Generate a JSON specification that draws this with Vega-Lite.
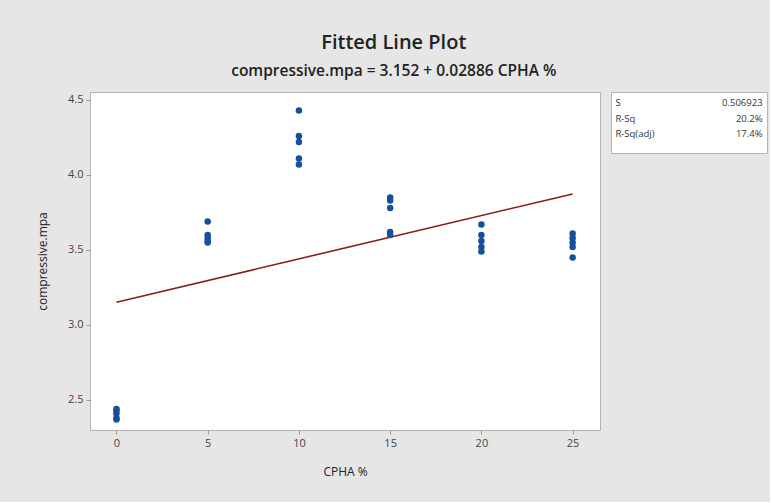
{
  "$schema": "https://vega.github.io/schema/vega-lite/v6.json",
  "padding": {"left": 36, "top": 33, "right": 2, "bottom": 24},
  "background": "#e6e6e6",
  "title": {
    "text": "Fitted Line Plot",
    "subtitle": "compressive.mpa = 3.152 + 0.02886 CPHA %",
    "anchor": "middle",
    "frame": "bounds",
    "dx": -8,
    "font": "Open Sans",
    "fontSize": 20,
    "fontWeight": 600,
    "color": "#222222",
    "subtitleFont": "Open Sans",
    "subtitleFontSize": 15.5,
    "subtitleFontWeight": 600,
    "subtitleColor": "#222222",
    "subtitlePadding": 11,
    "offset": 12
  },
  "datasets": {
    "points": [
      {"cpha": 0, "mpa": 2.44}, {"cpha": 0, "mpa": 2.43}, {"cpha": 0, "mpa": 2.41}, {"cpha": 0, "mpa": 2.38}, {"cpha": 0, "mpa": 2.37},
      {"cpha": 5, "mpa": 3.69}, {"cpha": 5, "mpa": 3.60}, {"cpha": 5, "mpa": 3.58}, {"cpha": 5, "mpa": 3.56}, {"cpha": 5, "mpa": 3.55},
      {"cpha": 10, "mpa": 4.43}, {"cpha": 10, "mpa": 4.26}, {"cpha": 10, "mpa": 4.22}, {"cpha": 10, "mpa": 4.11}, {"cpha": 10, "mpa": 4.07},
      {"cpha": 15, "mpa": 3.85}, {"cpha": 15, "mpa": 3.83}, {"cpha": 15, "mpa": 3.78}, {"cpha": 15, "mpa": 3.62}, {"cpha": 15, "mpa": 3.60},
      {"cpha": 20, "mpa": 3.67}, {"cpha": 20, "mpa": 3.60}, {"cpha": 20, "mpa": 3.56}, {"cpha": 20, "mpa": 3.52}, {"cpha": 20, "mpa": 3.49},
      {"cpha": 25, "mpa": 3.61}, {"cpha": 25, "mpa": 3.58}, {"cpha": 25, "mpa": 3.55}, {"cpha": 25, "mpa": 3.52}, {"cpha": 25, "mpa": 3.45}
    ],
    "fit": [
      {"cpha": 0, "mpa": 3.152},
      {"cpha": 25, "mpa": 3.8735}
    ],
    "stats": [
      {"row": 1, "label": "S", "value": "0.506923"},
      {"row": 2, "label": "R-Sq", "value": "20.2%"},
      {"row": 3, "label": "R-Sq(adj)", "value": "17.4%"}
    ]
  },
  "config": {
    "font": "Open Sans",
    "view": {"fill": "white", "stroke": "#b5b5b5", "strokeWidth": 1},
    "axis": {
      "grid": false,
      "domain": false,
      "tickColor": "#9a9a9a",
      "tickSize": 4,
      "labelFont": "Open Sans",
      "labelFontSize": 11,
      "labelColor": "#444444",
      "titleFont": "Open Sans",
      "titleFontSize": 12,
      "titleFontWeight": 500,
      "titleColor": "#222222"
    }
  },
  "spacing": 11,
  "bounds": "flush",
  "hconcat": [
    {
      "width": 510,
      "height": 338,
      "layer": [
        {
          "data": {"name": "fit"},
          "mark": {"type": "line", "color": "#8b1c1c", "strokeWidth": 1.6},
          "encoding": {
            "x": {"field": "cpha", "type": "quantitative"},
            "y": {"field": "mpa", "type": "quantitative"}
          }
        },
        {
          "data": {"name": "points"},
          "mark": {"type": "circle", "size": 42, "color": "#14509b", "opacity": 1},
          "encoding": {
            "x": {
              "field": "cpha",
              "type": "quantitative",
              "title": "CPHA %",
              "scale": {"domain": [-1.45, 26.5], "nice": false, "zero": false},
              "axis": {"values": [0, 5, 10, 15, 20, 25], "titlePadding": 18, "labelPadding": 3}
            },
            "y": {
              "field": "mpa",
              "type": "quantitative",
              "title": "compressive.mpa",
              "scale": {"domain": [2.3, 4.553], "nice": false, "zero": false},
              "axis": {"values": [2.5, 3.0, 3.5, 4.0, 4.5], "format": ".1f", "titlePadding": 18, "labelPadding": 3}
            }
          }
        }
      ]
    },
    {
      "width": 156,
      "height": 61,
      "data": {"name": "stats"},
      "view": {"fill": "white", "stroke": "#b5b5b5"},
      "layer": [
        {
          "mark": {"type": "text", "align": "left", "baseline": "middle", "fontSize": 9.5, "color": "#333333"},
          "encoding": {
            "x": {"datum": 0, "type": "quantitative", "scale": {"domain": [-0.03, 1.03], "nice": false}, "axis": null},
            "y": {"field": "row", "type": "quantitative", "axis": null, "scale": {"domain": [0.29, 4.225], "nice": false, "zero": false, "reverse": true}},
            "text": {"field": "label"}
          }
        },
        {
          "mark": {"type": "text", "align": "right", "baseline": "middle", "fontSize": 9.5, "color": "#333333"},
          "encoding": {
            "x": {"datum": 1, "type": "quantitative"},
            "y": {"field": "row", "type": "quantitative"},
            "text": {"field": "value"}
          }
        }
      ]
    }
  ]
}
